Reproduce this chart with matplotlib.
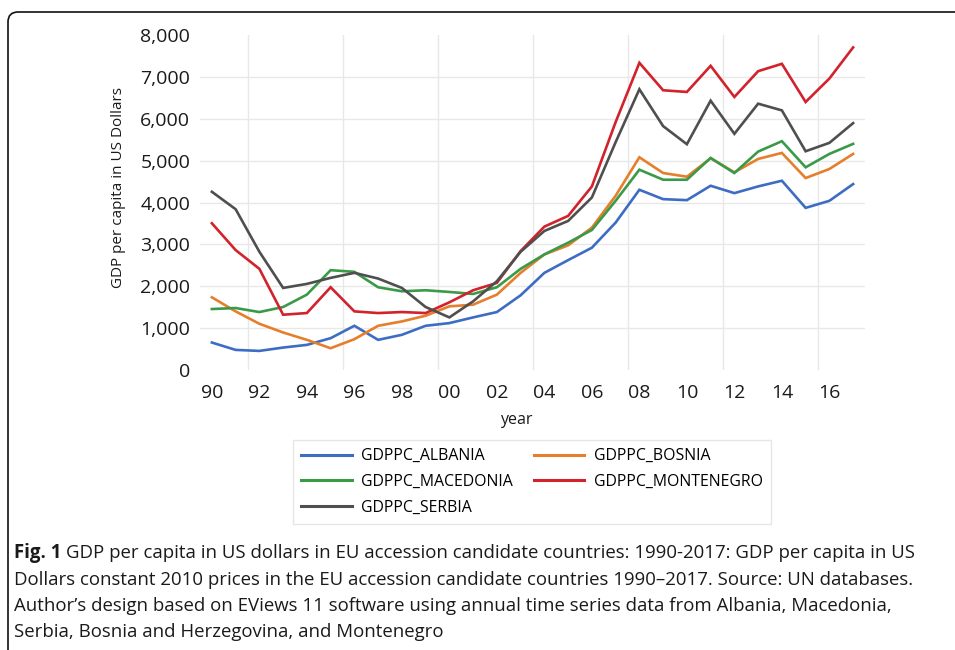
import matplotlib
matplotlib.use("Agg")
import matplotlib.pyplot as plt
from matplotlib.patches import FancyBboxPatch
from matplotlib.transforms import IdentityTransform
from matplotlib.ticker import FuncFormatter, FixedLocator

plt.rcParams['font.family'] = ['Open Sans', 'DejaVu Sans']

# annual GDP per capita, constant 2010 US dollars
years = list(range(1990, 2018))
albania = [656, 480, 456, 536, 600, 760, 1056, 720, 840, 1056, 1120, 1256, 1384, 1784,
           2320, 2624, 2920, 3520, 4304, 4080, 4056, 4400, 4224, 4384, 4520, 3872, 4040, 4440]
bosnia = [1736, 1400, 1104, 896, 720, 520, 736, 1056, 1160, 1296, 1520, 1560, 1800, 2320,
          2760, 2976, 3400, 4160, 5080, 4704, 4616, 5056, 4720, 5040, 5184, 4584, 4800, 5160]
macedonia = [1456, 1480, 1384, 1504, 1800, 2384, 2344, 1976, 1880, 1904, 1864, 1816, 1976, 2416,
             2760, 3040, 3344, 4040, 4784, 4544, 4544, 5064, 4704, 5216, 5464, 4840, 5160, 5400]
montenegro = [3504, 2864, 2416, 1320, 1360, 1976, 1400, 1360, 1384, 1360, 1616, 1904, 2080, 2840,
              3424, 3680, 4384, 5920, 7336, 6680, 6640, 7264, 6520, 7136, 7312, 6400, 6960, 7704]
serbia = [4256, 3840, 2824, 1960, 2056, 2200, 2320, 2184, 1960, 1504, 1256, 1640, 2120, 2824,
          3320, 3560, 4120, 5440, 6704, 5824, 5392, 6432, 5640, 6360, 6200, 5224, 5424, 5896]

series = [
    ("GDPPC_ALBANIA", albania, "#3D6DC2"),
    ("GDPPC_BOSNIA", bosnia, "#E57F2C"),
    ("GDPPC_MACEDONIA", macedonia, "#3A9A48"),
    ("GDPPC_MONTENEGRO", montenegro, "#D2222B"),
    ("GDPPC_SERBIA", serbia, "#4F4F4F"),
]

label_years = list(range(1990, 2017, 2))
grid_years = [1991.5, 1995.5, 1999.5, 2003.5, 2007.5, 2011.5, 2015.5]

fig = plt.figure(figsize=(9.55, 6.5), dpi=100)
ax = fig.add_axes([200 / 955, 280 / 650, 665 / 955, 335 / 650])

for name, vals, col in series:
    ax.plot(years, vals, color=col, lw=1.9, label=name, solid_joinstyle='miter')

ax.set_xlim(1989.5, 2017.5)
ax.set_ylim(0, 8000)
ax.set_yticks(range(0, 8001, 1000))
ax.yaxis.set_major_formatter(FuncFormatter(lambda v, p: f"{int(v):,}"))
ax.set_xticks(label_years)
ax.set_xticklabels([f"{y % 100:02d}" for y in label_years])
ax.xaxis.set_minor_locator(FixedLocator(grid_years))

for v in range(1000, 8000, 1000):
    ax.axhline(v, color='#E8E8E8', lw=1, zorder=0)
ax.grid(True, which='minor', axis='x', color='#E8E8E8', lw=1)
ax.set_axisbelow(True)

for s in ax.spines.values():
    s.set_visible(False)
ax.tick_params(axis='both', which='both', length=0, labelsize=14, colors='#1a1a1a')
ax.tick_params(axis='x', pad=10)
ax.tick_params(axis='y', pad=7)

fig.text(118 / 955, 1 - 188 / 650, "GDP per capita in US Dollars", rotation=90,
         ha='center', va='center', fontsize=11, color='#1a1a1a')
fig.text(516 / 955, 1 - 420 / 650, "year", ha='center', va='center',
         fontsize=11.5, color='#1a1a1a')

# legend filled row by row: reorder for matplotlib's column-major layout
handles, labels = ax.get_legend_handles_labels()
order = [0, 2, 4, 1, 3]
leg = fig.legend([handles[i] for i in order], [labels[i] for i in order], ncol=2, loc='center',
                 bbox_to_anchor=(532 / 955, 1 - 482 / 650),
                 fontsize=11.4, frameon=True, fancybox=False, handlelength=3.2,
                 columnspacing=1.3, labelspacing=0.62, borderpad=0.5, handletextpad=0.6)
leg.get_frame().set_edgecolor('#E0E0E0')
leg.get_frame().set_linewidth(1)
for line in leg.get_lines():
    line.set_linewidth(2.2)

# rounded frame around the figure panel
frame = FancyBboxPatch((8, -30), 1000, 650 - 12 + 30, boxstyle="round,pad=0,rounding_size=10",
                       transform=IdentityTransform(), fill=False, edgecolor='#111111', lw=1.2)
fig.patches.append(frame)

# caption
cap_lines = [
    "GDP per capita in US dollars in EU accession candidate countries: 1990-2017: GDP per capita in US",
    "Dollars constant 2010 prices in the EU accession candidate countries 1990\u20132017. Source: UN databases.",
    "Author\u2019s design based on EViews 11 software using annual time series data from Albania, Macedonia,",
    "Serbia, Bosnia and Herzegovina, and Montenegro",
]
cap_y = [553, 580, 606, 632]
cap_x = 14 / 955
cap_size = 13.4
fig.canvas.draw()
renderer = fig.canvas.get_renderer()
bold = fig.text(cap_x, 1 - cap_y[0] / 650, "Fig. 1", fontweight='bold', fontsize=cap_size,
                va='center', ha='left', color='#1a1a1a')
w = bold.get_window_extent(renderer).width
fig.text(cap_x + (w + 5) / 955, 1 - cap_y[0] / 650, cap_lines[0], fontsize=cap_size,
         va='center', ha='left', color='#1a1a1a')
for txt, y in zip(cap_lines[1:], cap_y[1:]):
    fig.text(cap_x, 1 - y / 650, txt, fontsize=cap_size, va='center', ha='left', color='#1a1a1a')

fig.savefig("out.png", dpi=100)
